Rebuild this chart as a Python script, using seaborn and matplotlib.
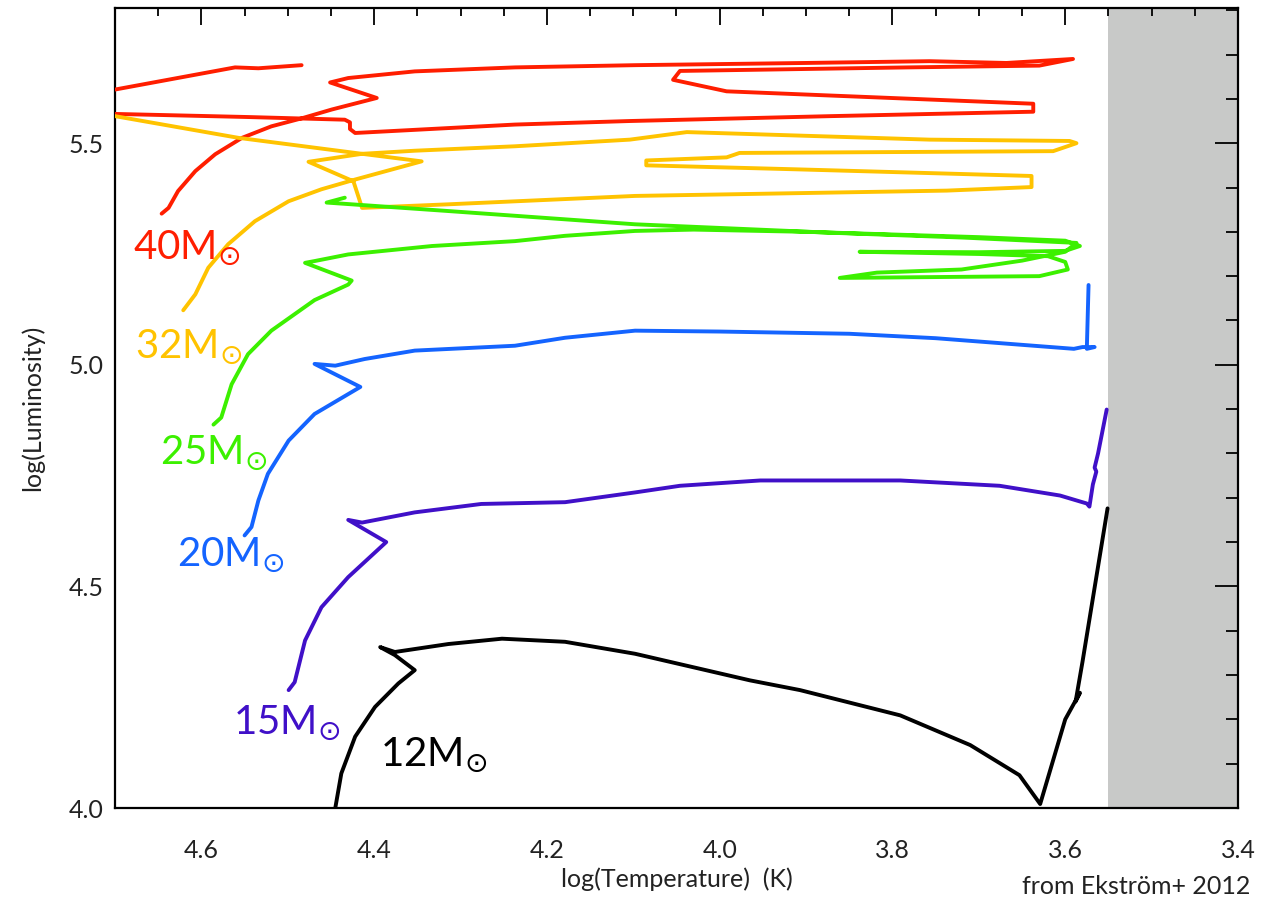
import numpy as np
import pandas as pd
import matplotlib
matplotlib.use("Agg")
import matplotlib.pyplot as plt
from matplotlib.ticker import MultipleLocator
import seaborn as sns

# ---------------- data (log Teff, log L) ----------------
m40_logT = [4.646, 4.638, 4.627, 4.607, 4.584, 4.553, 4.519, 4.484, 4.449, 4.397,
            4.451, 4.430, 4.353, 4.237, 4.098, 3.900, 3.757, 3.668, 3.591,
            3.630, 3.782, 4.046, 4.054, 3.992, 3.637, 3.637, 3.872, 4.104, 4.237,
            4.422, 4.428, 4.428, 4.434, 4.546, 4.700, 4.760, 4.760, 4.700, 4.561,
            4.534, 4.484]
m40_logL = [5.341, 5.354, 5.392, 5.437, 5.475, 5.512, 5.538, 5.556, 5.576, 5.602,
            5.637, 5.647, 5.662, 5.671, 5.676, 5.681, 5.685, 5.681, 5.690,
            5.675, 5.671, 5.663, 5.643, 5.617, 5.589, 5.571, 5.561, 5.550, 5.542,
            5.523, 5.532, 5.547, 5.553, 5.559, 5.566, 5.575, 5.600, 5.621, 5.671,
            5.669, 5.676]

m32_logT = [4.621, 4.607, 4.592, 4.569, 4.538, 4.499, 4.461, 4.422, 4.345, 4.414,
            4.476, 4.424, 4.414, 4.315, 4.098, 3.737, 3.639, 3.639, 3.911, 4.085,
            4.085, 3.992, 3.977, 3.614, 3.587, 3.595, 3.757, 4.038, 4.104, 4.237,
            4.353, 4.414, 4.557, 4.700, 4.760]
m32_logL = [5.123, 5.159, 5.219, 5.272, 5.324, 5.369, 5.396, 5.418, 5.459, 5.476,
            5.458, 5.414, 5.354, 5.362, 5.381, 5.393, 5.401, 5.426, 5.441, 5.450,
            5.461, 5.468, 5.478, 5.482, 5.500, 5.505, 5.508, 5.525, 5.508, 5.493,
            5.483, 5.476, 5.512, 5.561, 5.575]

m25_logT = [4.586, 4.577, 4.565, 4.546, 4.519, 4.469, 4.430, 4.426, 4.480, 4.469,
            4.430, 4.333, 4.237, 4.179, 4.098, 4.030, 3.900, 3.700, 3.600, 3.583,
            3.600, 3.700, 3.838, 3.700, 3.620, 3.600, 3.597, 3.630, 3.861, 3.818,
            3.720, 3.650, 3.600, 3.587, 3.718, 3.872, 4.098, 4.315, 4.455, 4.434]
m25_logL = [4.865, 4.881, 4.956, 5.024, 5.077, 5.146, 5.181, 5.190, 5.230, 5.234,
            5.249, 5.268, 5.279, 5.291, 5.302, 5.305, 5.300, 5.288, 5.280, 5.268,
            5.257, 5.254, 5.255, 5.250, 5.245, 5.232, 5.215, 5.200, 5.196, 5.208,
            5.215, 5.235, 5.255, 5.275, 5.287, 5.298, 5.317, 5.347, 5.366, 5.377]

m20_logT = [4.550, 4.542, 4.534, 4.523, 4.499, 4.469, 4.416, 4.469, 4.445, 4.411,
            4.353, 4.237, 4.179, 4.098, 4.000, 3.850, 3.750, 3.650, 3.590, 3.580,
            3.566, 3.575, 3.573]
m20_logL = [4.615, 4.634, 4.694, 4.754, 4.829, 4.889, 4.950, 5.002, 4.998, 5.013,
            5.032, 5.043, 5.061, 5.077, 5.075, 5.070, 5.060, 5.045, 5.036, 5.040,
            5.040, 5.036, 5.180]

m15_logT = [4.499, 4.492, 4.480, 4.461, 4.430, 4.386, 4.430, 4.414, 4.353, 4.276,
            4.179, 4.098, 4.046, 3.953, 3.791, 3.676, 3.606, 3.575, 3.572, 3.568,
            3.564, 3.566, 3.562, 3.552]
m15_logL = [4.266, 4.284, 4.378, 4.453, 4.521, 4.600, 4.650, 4.644, 4.667, 4.686,
            4.690, 4.712, 4.727, 4.739, 4.739, 4.727, 4.705, 4.687, 4.680, 4.730,
            4.759, 4.768, 4.800, 4.899]

m12_logT = [4.450, 4.445, 4.438, 4.422, 4.399, 4.372, 4.353, 4.376, 4.393, 4.376,
            4.314, 4.252, 4.179, 4.098, 3.965, 3.907, 3.791, 3.710, 3.653, 3.629,
            3.600, 3.583, 3.588, 3.580, 3.551]
m12_logL = [3.980, 4.000, 4.078, 4.161, 4.228, 4.281, 4.311, 4.345, 4.363, 4.352,
            4.370, 4.382, 4.375, 4.348, 4.288, 4.266, 4.209, 4.142, 4.074, 4.009,
            4.200, 4.260, 4.240, 4.330, 4.676]

masses = ["40", "32", "25", "20", "15", "12"]
colors = ["#FF1E00", "#FFC300", "#3CF000", "#1464FF", "#4010C8", "#000000"]
label_logT = [4.679, 4.677, 4.648, 4.628, 4.563, 4.393]
label_logL = [5.241, 5.016, 4.777, 4.547, 4.169, 4.097]

tracks = [(m40_logT, m40_logL), (m32_logT, m32_logL), (m25_logT, m25_logL),
          (m20_logT, m20_logL), (m15_logT, m15_logL), (m12_logT, m12_logL)]

# ---------------- figure ----------------
sns.set_theme(style="white")
plt.rcParams["font.family"] = ["Lato", "DejaVu Sans"]
plt.rcParams["mathtext.fontset"] = "dejavusans"

fig = plt.figure(figsize=(12.64, 9.07), dpi=100)
ax = fig.add_axes([115 / 1264, 99 / 907, 1123 / 1264, 800 / 907])

ax.axvspan(3.55, 3.40, color="#C8C9C8", zorder=0, lw=0)

for (lt, ll), c in zip(tracks, colors):
    df = pd.DataFrame({"logT": lt, "logL": ll})
    sns.lineplot(data=df, x="logT", y="logL", sort=False, estimator=None,
                 color=c, lw=2.8, ax=ax, zorder=3,
                 solid_joinstyle="round", solid_capstyle="round")

for m, c, tx, ty in zip(masses, colors, label_logT, label_logL):
    ax.text(tx, ty, m + r"M$_{\odot}$", color=c, fontsize=29,
            ha="left", va="baseline", zorder=4)

ax.set_xlim(4.7, 3.4)
ax.set_ylim(4.0, 5.805)
ax.xaxis.set_major_locator(MultipleLocator(0.2))
ax.xaxis.set_minor_locator(MultipleLocator(0.05))
ax.yaxis.set_major_locator(MultipleLocator(0.5))
ax.yaxis.set_minor_locator(MultipleLocator(0.1))
ax.xaxis.set_major_formatter(matplotlib.ticker.FormatStrFormatter("%.1f"))
ax.yaxis.set_major_formatter(matplotlib.ticker.FormatStrFormatter("%.1f"))

ax.tick_params(axis="both", which="both", direction="in", top=True, right=True,
               color="black", labelcolor="#222222", labelsize=18)
ax.tick_params(axis="x", which="major", length=12, width=1.3, pad=22)
ax.tick_params(axis="x", which="minor", length=6, width=1.3)
ax.tick_params(axis="y", which="major", length=16.5, width=1.3, pad=8)
ax.tick_params(axis="y", which="minor", length=9, width=1.3)
for s in ax.spines.values():
    s.set_linewidth(1.6)
    s.set_color("black")

ax.set_xlabel("log(Temperature)  (K)", fontsize=18, color="#222222", labelpad=4)
ax.set_ylabel("log(Luminosity)", fontsize=18, color="#222222", labelpad=18)

fig.text(1250 / 1264, 1 - 887 / 907, "from Ekström+ 2012", fontsize=18,
         color="#222222", ha="right", va="center")

fig.savefig("out.png", dpi=100)
